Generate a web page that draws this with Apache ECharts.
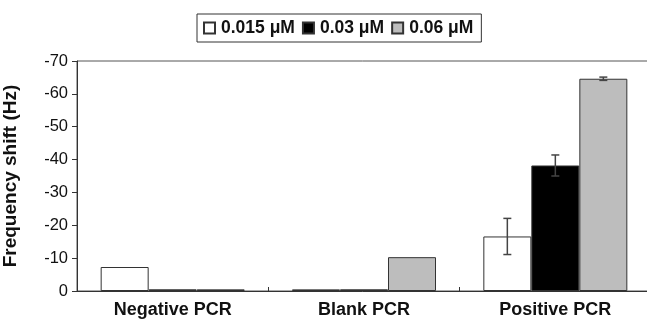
<!DOCTYPE html>
<html>
<head>
<meta charset="utf-8">
<script src="https://cdn.jsdelivr.net/npm/echarts@6/dist/echarts.min.js"></script>
<style>
html,body{margin:0;padding:0;background:#fff;}
#c{width:647px;height:321px;}
</style>
</head>
<body>
<div id="c"></div>
<script>
var categories = ['Negative PCR', 'Blank PCR', 'Positive PCR'];
var seriesNames = ['0.015 μM', '0.03 μM', '0.06 μM'];
var vals015 = [-7.3, -0.5, -16.6];
var vals03 = [-0.5, -0.5, -38.2];
var vals06 = [-0.5, -10.3, -64.6];
var err015 = [0, 0, 5.5];
var err03 = [0, 0, 3.2];
var err06 = [0, 0, 0.5];
var yTicks = {min: -70, max: 0, interval: 10};

var FONT = 'Liberation Sans, Arial, Helvetica, sans-serif';
var fills = ['#ffffff', '#000000', '#bdbdbd'];
var allVals = [vals015, vals03, vals06];
var allErr = [err015, err03, err06];
var BARW = 48;

var chart = echarts.init(document.getElementById('c'), null, {renderer: 'canvas'});

var series = [];
seriesNames.forEach(function (n, i) {
  series.push({
    name: n,
    type: 'bar',
    data: allVals[i],
    barWidth: BARW,
    barGap: '0%',
    itemStyle: {color: fills[i], borderColor: '#333', borderWidth: 1},
    emphasis: {disabled: true},
    animation: false
  });
});
seriesNames.forEach(function (n, i) {
  var d = allVals[i].map(function (v, k) { return [k, v, allErr[i][k]]; }).filter(function (r) { return r[2] > 0; });
  series.push({
    type: 'custom',
    data: d,
    encode: {x: 0, y: 1},
    silent: true,
    animation: false,
    z: 10,
    renderItem: function (params, api) {
      var k = api.value(0), v = api.value(1), e = api.value(2);
      var off = (i - 1) * BARW;
      var p1 = api.coord([k, v - e]);
      var p2 = api.coord([k, v + e]);
      var x = p1[0] + off;
      var cap = 4;
      var st = {stroke: '#444', lineWidth: 1.5};
      return {
        type: 'group',
        children: [
          {type: 'line', shape: {x1: x, y1: p1[1], x2: x, y2: p2[1]}, style: st},
          {type: 'line', shape: {x1: x - cap, y1: p1[1], x2: x + cap, y2: p1[1]}, style: st},
          {type: 'line', shape: {x1: x - cap, y1: p2[1], x2: x + cap, y2: p2[1]}, style: st}
        ]
      };
    }
  });
});

chart.setOption({
  backgroundColor: '#fff',
  animation: false,
  legend: {
    data: seriesNames,
    left: 197,
    top: 14,
    itemWidth: 11,
    itemHeight: 11,
    itemGap: 7,
    padding: [5, 8, 5, 6],
    borderColor: '#333',
    borderWidth: 1,
    icon: 'rect',
    selectedMode: false,
    textStyle: {fontFamily: FONT, fontSize: 17.5, fontWeight: 'bold', color: '#111', padding: [0, 0, 0, 1]}
  },
  grid: {
    left: 77, top: 61, width: 574, height: 230,
    containLabel: false,
    outerBoundsMode: 'none',
    show: true, borderColor: '#555', borderWidth: 1, backgroundColor: 'transparent'
  },
  xAxis: {
    type: 'category',
    data: categories,
    boundaryGap: true,
    axisLine: {lineStyle: {color: '#333', width: 1}},
    axisTick: {show: true, inside: true, length: 4, lineStyle: {color: '#333'}},
    axisLabel: {fontFamily: FONT, fontSize: 18, fontWeight: 'bold', color: '#111', margin: 10},
    splitLine: {show: false}
  },
  yAxis: {
    type: 'value',
    inverse: true,
    min: yTicks.min,
    max: yTicks.max,
    interval: yTicks.interval,
    name: 'Frequency shift (Hz)',
    nameLocation: 'middle',
    nameGap: 57,
    nameRotate: 90,
    nameTextStyle: {fontFamily: FONT, fontSize: 19, fontWeight: 'bold', color: '#111'},
    axisLine: {show: true, lineStyle: {color: '#333', width: 1}},
    axisTick: {show: true, inside: false, length: 5, lineStyle: {color: '#333'}},
    axisLabel: {fontFamily: FONT, fontSize: 16.5, color: '#111', margin: 9},
    splitLine: {show: false}
  },
  series: series
});
</script>
</body>
</html>
